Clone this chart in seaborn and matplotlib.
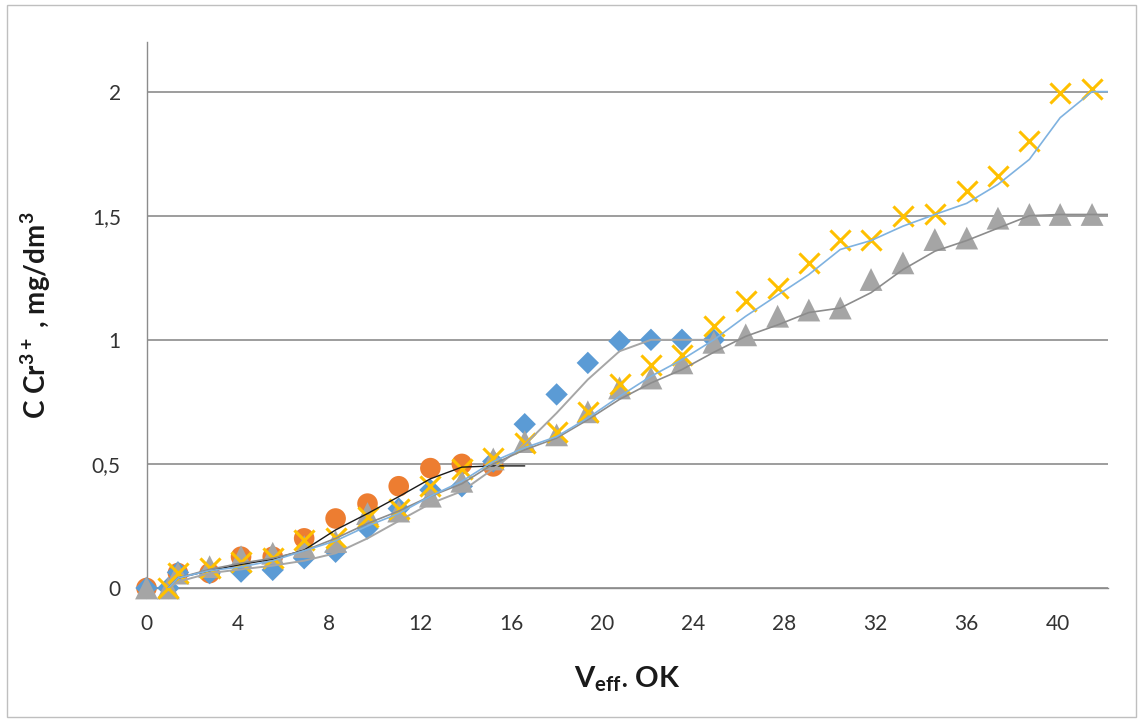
import numpy as np
import pandas as pd
import matplotlib
matplotlib.use("Agg")
import matplotlib.pyplot as plt
from matplotlib.patches import Rectangle
import seaborn as sns

# ---------------- data ----------------
x_grid = [0, 0.96, 1.38, 2.77, 4.15, 5.54, 6.92, 8.3, 9.7, 11.07, 12.46, 13.84,
          15.22, 16.6, 18.0, 19.37, 20.76, 22.14, 23.5, 24.9, 26.3, 27.7, 29.07,
          30.45, 31.8, 33.2, 34.6, 36.0, 37.37, 38.75, 40.1, 41.5]

# orange circles
orange_x = [0, 1.38, 2.77, 4.15, 5.54, 6.92, 8.3, 9.7, 11.07, 12.46, 13.84, 15.22]
orange_y = [0, 0.06, 0.06, 0.126, 0.126, 0.20, 0.28, 0.34, 0.41, 0.483, 0.50, 0.49]

# blue diamonds
blue_x = [0, 0.96, 1.38, 2.77, 4.15, 5.54, 6.92, 8.3, 9.7, 11.07, 12.46, 13.84,
          15.22, 16.6, 18.0, 19.37, 20.76, 22.14, 23.5, 24.9]
blue_y = [0, 0.0, 0.063, 0.06, 0.066, 0.073, 0.12, 0.146, 0.24, 0.32, 0.395, 0.41,
          0.51, 0.66, 0.78, 0.907, 0.994, 1.0, 1.0, 1.0]

# gray triangles
gray_x = x_grid
gray_y = [0, 0.0, 0.06, 0.086, 0.126, 0.14, 0.167, 0.187, 0.30, 0.31, 0.37, 0.43,
          0.52, 0.59, 0.617, 0.71, 0.806, 0.846, 0.907, 0.99, 1.02, 1.095, 1.12,
          1.128, 1.243, 1.31, 1.404, 1.41, 1.49, 1.505, 1.505, 1.505]

# yellow crosses
yellow_x = x_grid[1:]
yellow_y = [0.0, 0.06, 0.08, 0.106, 0.12, 0.194, 0.20, 0.288, 0.32, 0.41, 0.48,
            0.523, 0.584, 0.63, 0.71, 0.82, 0.90, 0.94, 1.055, 1.155, 1.21, 1.31,
            1.404, 1.404, 1.498, 1.505, 1.60, 1.66, 1.80, 1.996, 2.01]

# fitted / smoothed curves
black_x = [0.96, 1.38, 2.77, 4.15, 5.54, 6.92, 8.3, 9.7, 11.07, 12.46, 13.84, 15.22, 16.6]
black_y = [0, 0.04, 0.07, 0.095, 0.116, 0.153, 0.234, 0.30, 0.368, 0.44, 0.487, 0.492, 0.492]

bluefit_x = [0.96, 1.38, 2.77, 4.15, 5.54, 6.92, 8.3, 9.7, 11.07, 12.46, 13.84,
             15.22, 16.6, 18.0, 19.37, 20.76, 22.14, 23.5, 24.9]
bluefit_y = [0, 0.025, 0.06, 0.075, 0.09, 0.11, 0.14, 0.20, 0.27, 0.34, 0.39,
             0.48, 0.577, 0.705, 0.84, 0.954, 1.0, 1.0, 1.0]

grayfit_x = x_grid[1:] + [42.2]
grayfit_y = [0, 0.04, 0.075, 0.10, 0.12, 0.15, 0.20, 0.26, 0.31, 0.37, 0.42, 0.50,
             0.557, 0.604, 0.678, 0.76, 0.826, 0.88, 0.95, 1.014, 1.06, 1.11, 1.128,
             1.19, 1.283, 1.357, 1.40, 1.45, 1.50, 1.505, 1.505, 1.505]

yellowfit_x = x_grid[1:] + [42.2]
yellowfit_y = [0, 0.04, 0.07, 0.085, 0.11, 0.15, 0.19, 0.25, 0.30, 0.37, 0.43, 0.51,
               0.565, 0.61, 0.685, 0.772, 0.853, 0.92, 1.0, 1.095, 1.18, 1.263, 1.364,
               1.40, 1.458, 1.505, 1.55, 1.626, 1.727, 1.895, 2.0, 2.0]

y_ticks = [0, 0.5, 1, 1.5, 2]
y_labels = ["0", "0,5", "1", "1,5", "2"]
x_ticks = [0, 4, 8, 12, 16, 20, 24, 28, 32, 36, 40]
x_labels = [str(v) for v in x_ticks]

# ---------------- style ----------------
sns.set_theme(style="white")
plt.rcParams["font.family"] = ["Lato", "DejaVu Sans"]

W, H = 1143, 722
fig = plt.figure(figsize=(W / 100, H / 100), dpi=100)
fig.patch.set_facecolor("white")
ax = fig.add_axes([146.5 / W, 1 - 588 / H, (1108 - 146.5) / W, (588 - 42) / H])

ORANGE = "#ED7D31"
BLUE = "#5B9BD5"
GRAY = "#A5A5A5"
YELLOW = "#FFC000"

sns.scatterplot(x=orange_x, y=orange_y, ax=ax, marker="o", s=220, color=ORANGE,
                edgecolor="none", zorder=3, legend=False, clip_on=False)
sns.scatterplot(x=blue_x, y=blue_y, ax=ax, marker="D", s=130, color=BLUE,
                edgecolor="none", zorder=4, legend=False, clip_on=False)
sns.scatterplot(x=gray_x, y=gray_y, ax=ax, marker="^", s=270, color=GRAY,
                edgecolor="none", zorder=5, legend=False, clip_on=False)
sns.scatterplot(x=yellow_x, y=yellow_y, ax=ax, marker="x", s=210, color=YELLOW,
                linewidth=2.2, zorder=6, legend=False, clip_on=False)

sns.lineplot(x=black_x, y=black_y, ax=ax, sort=False, estimator=None,
             color="#1a1a1a", linewidth=1.0, zorder=7)
sns.lineplot(x=bluefit_x, y=bluefit_y, ax=ax, sort=False, estimator=None,
             color="#A6A6A6", linewidth=1.4, zorder=7)
sns.lineplot(x=grayfit_x, y=grayfit_y, ax=ax, sort=False, estimator=None,
             color="#8C8C8C", linewidth=1.2, zorder=7)
sns.lineplot(x=yellowfit_x, y=yellowfit_y, ax=ax, sort=False, estimator=None,
             color="#7FB2E0", linewidth=1.2, zorder=7)

ax.set_xlim(0, 42.2)
ax.set_ylim(0, 2.2)
ax.set_yticks(y_ticks)
ax.set_yticklabels(y_labels)
ax.set_xticks(x_ticks)
ax.set_xticklabels(x_labels)

ax.yaxis.grid(True, color="#8C8C8C", linewidth=1.2)
ax.xaxis.grid(False)
ax.set_axisbelow(True)

for side in ["top", "right"]:
    ax.spines[side].set_visible(False)
for side in ["left", "bottom"]:
    ax.spines[side].set_color("#8C8C8C")
    ax.spines[side].set_linewidth(1.0)

ax.tick_params(axis="both", which="major", direction="out", length=6.5,
               width=1.0, color="#8C8C8C", labelsize=15, labelcolor="#333333", pad=12)

ax.set_xlabel(r"V$_{\mathregular{eff}}$$_{\mathregular{\bullet}}$ OK", fontsize=21,
              fontweight="bold", color="#1a1a1a", labelpad=22)
ax.set_ylabel(r"C Cr$^{\mathregular{3+}}$ , mg/dm$^{\mathregular{3}}$", fontsize=20,
              fontweight="bold", color="#1a1a1a", labelpad=28)

fig.patches.append(Rectangle((7 / W, 1 - 717 / H), (1136 - 7) / W, (717 - 5) / H,
                             transform=fig.transFigure, fill=False,
                             edgecolor="#BFBFBF", linewidth=1.0))

fig.savefig("out.png", dpi=100, facecolor="white")
